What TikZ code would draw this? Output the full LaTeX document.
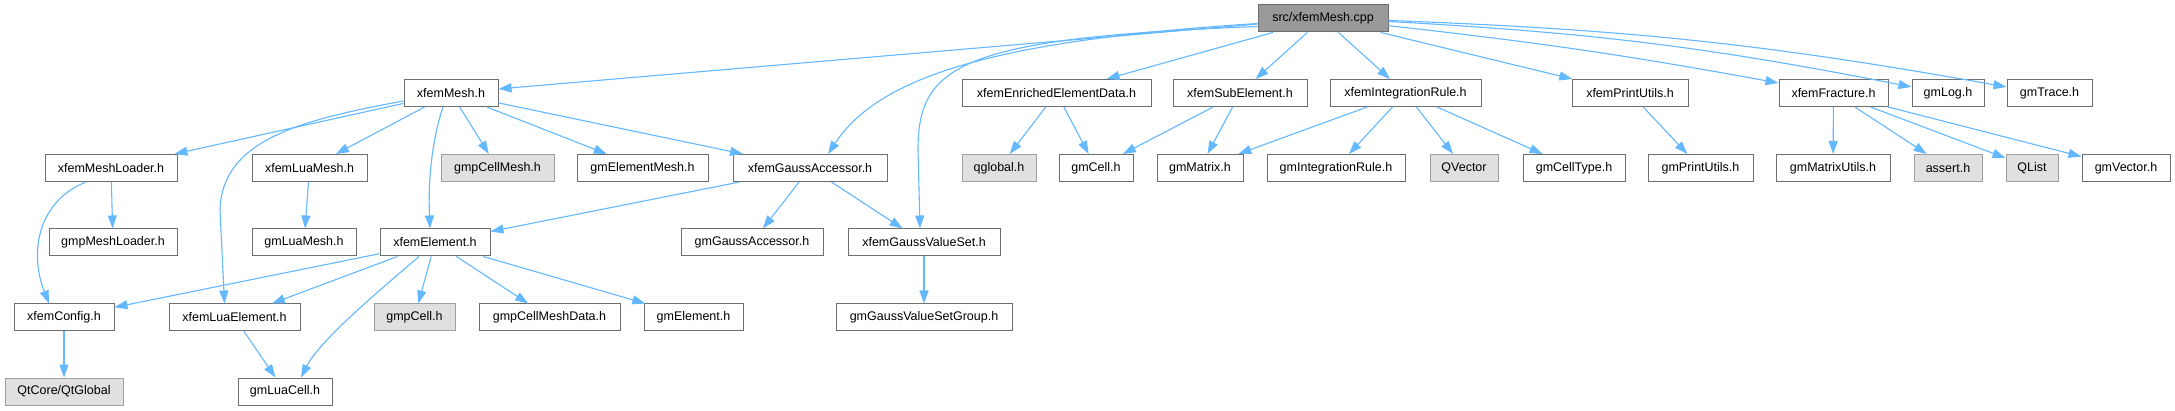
\documentclass[tikz,border=0pt]{standalone}
\usepackage{fontspec}
\setmainfont{Liberation Sans}
\usetikzlibrary{arrows.meta,calc}
\definecolor{edgec}{HTML}{63B8FF}
\definecolor{boxline}{HTML}{6E6E6E}
\definecolor{extline}{HTML}{A0A0A0}
\definecolor{extfill}{HTML}{E0E0E0}
\definecolor{rootfill}{HTML}{999999}
\begin{document}
\begin{tikzpicture}[x=1pt,y=-1pt,
  box/.style={draw=boxline, fill=white, line width=1pt, minimum height=27pt, inner sep=0pt, font=\fontsize{12.5}{14}\selectfont, text=black},
  ext/.style={box, draw=extline, fill=extfill},
  root/.style={box, draw=boxline, fill=rootfill},
  dep/.style={draw=edgec, line width=1.1pt, -{Triangle[length=13pt,width=9pt]}}]
\useasboundingbox[fill=white] (0,0) rectangle (2175,411);
% row 0
\node[root, minimum width=130pt] (cpp) at (1323,18.5) {src/xfemMesh.cpp};
% row 1
\node[box, minimum width=94pt] (xmesh) at (451,93) {xfemMesh.h};
\node[box, minimum width=189pt] (enriched) at (1056.5,93) {xfemEnrichedElementData.h};
\node[box, minimum width=134pt] (subel) at (1240,93) {xfemSubElement.h};
\node[box, minimum width=151pt] (intrule) at (1405.5,93) {xfemIntegrationRule.h};
\node[box, minimum width=116pt] (printu) at (1630,93) {xfemPrintUtils.h};
\node[box, minimum width=109pt] (fract) at (1833.5,93) {xfemFracture.h};
\node[box, minimum width=72pt] (gmlog) at (1948,93) {gmLog.h};
\node[box, minimum width=85pt] (gmtrace) at (2049.5,93) {gmTrace.h};
% row 2
\node[box, minimum width=132pt] (meshloader) at (111,168) {xfemMeshLoader.h};
\node[box, minimum width=115pt] (luamesh) at (309.5,168) {xfemLuaMesh.h};
\node[ext, minimum width=113pt] (gmpcellmesh) at (497.5,168) {gmpCellMesh.h};
\node[box, minimum width=131pt] (gmelemmesh) at (642.5,168) {gmElementMesh.h};
\node[box, minimum width=154pt] (gaussacc) at (810,168) {xfemGaussAccessor.h};
\node[ext, minimum width=74pt] (qglobal) at (999,168) {qglobal.h};
\node[box, minimum width=74pt] (gmcell) at (1096,168) {gmCell.h};
\node[box, minimum width=86pt] (gmmatrix) at (1200,168) {gmMatrix.h};
\node[box, minimum width=138pt] (gmintrule) at (1336,168) {gmIntegrationRule.h};
\node[ext, minimum width=68pt] (qvector) at (1464,168) {QVector};
\node[box, minimum width=102pt] (gmcelltype) at (1574,168) {gmCellType.h};
\node[box, minimum width=105pt] (gmprintu) at (1700.5,168) {gmPrintUtils.h};
\node[box, minimum width=114pt] (gmmatutils) at (1833,168) {gmMatrixUtils.h};
\node[ext, minimum width=68pt] (assert) at (1948,168) {assert.h};
\node[ext, minimum width=52pt] (qlist) at (2032,168) {QList};
\node[box, minimum width=88pt] (gmvector) at (2126,168) {gmVector.h};
% row 3
\node[box, minimum width=128pt] (gmpmeshloader) at (113,242.5) {gmpMeshLoader.h};
\node[box, minimum width=104pt] (gmluamesh) at (304,242.5) {gmLuaMesh.h};
\node[box, minimum width=110pt] (xelem) at (435,242.5) {xfemElement.h};
\node[box, minimum width=142pt] (gmgaussacc) at (752,242.5) {gmGaussAccessor.h};
\node[box, minimum width=152pt] (gaussvs) at (924,242.5) {xfemGaussValueSet.h};
% row 4
\node[box, minimum width=100pt] (xconfig) at (64,317.5) {xfemConfig.h};
\node[box, minimum width=131pt] (luaelem) at (234.5,317.5) {xfemLuaElement.h};
\node[ext, minimum width=81pt] (gmpcell) at (414.5,317.5) {gmpCell.h};
\node[box, minimum width=141pt] (gmpcellmd) at (549.5,317.5) {gmpCellMeshData.h};
\node[box, minimum width=99pt] (gmelement) at (693.5,317.5) {gmElement.h};
\node[box, minimum width=176pt] (gmgvsg) at (924,317.5) {gmGaussValueSetGroup.h};
% row 5
\node[ext, minimum width=118pt] (qtglobal) at (64,391.5) {QtCore/QtGlobal};
\node[box, minimum width=94pt] (gmluacell) at (285,391.5) {gmLuaCell.h};

% edges from cpp
\draw[dep] (cpp) -- (xmesh);
\draw[dep] ($(cpp.west)+(0,5)$) .. controls (1000,40) and (880,75) .. ($(gaussacc.north)+(18,0)$);
\draw[dep] ($(cpp.west)+(0,8)$) .. controls (960,38) and (918,65) .. (918,150) -- ($(gaussvs.north)+(-4,0)$);
\draw[dep] (cpp) -- (enriched);
\draw[dep] (cpp) -- (subel);
\draw[dep] (cpp) -- (intrule);
\draw[dep] (cpp) -- (printu);
\draw[dep] (cpp) to[bend left=2] (fract);
\draw[dep] (cpp) to[bend left=4] ($(gmlog.north west)+(0,8)$);
\draw[dep] (cpp) to[bend left=4] ($(gmtrace.north west)+(0,8)$);
% from xfemMesh.h
\draw[dep] (xmesh) -- (meshloader);
\draw[dep] ($(xmesh.west)+(0,8)$) .. controls (300,120) and (222,140) .. (220,210) -- ($(luaelem.north)+(-10,0)$);
\draw[dep] (xmesh) -- (luamesh);
\draw[dep] ($(xmesh.south)+(-8,0)$) .. controls (432,140) and (428,180) .. ($(xelem.north)+(-5,0)$);
\draw[dep] (xmesh) -- (gmpcellmesh);
\draw[dep] (xmesh) -- (gmelemmesh);
\draw[dep] (xmesh) -- (gaussacc);
% second level
\draw[dep] ($(meshloader.south)+(-25,0)$) .. controls (40,200) and (28,250) .. ($(xconfig.north)+(-15,0)$);
\draw[dep] (meshloader) -- (gmpmeshloader);
\draw[dep] (luamesh) -- (gmluamesh);
\draw[dep] (gaussacc) -- (xelem);
\draw[dep] (gaussacc) -- (gmgaussacc);
\draw[dep] (gaussacc) -- (gaussvs);
\draw[dep] (gaussvs) -- (gmgvsg);
\draw[dep] (enriched) -- (qglobal);
\draw[dep] (enriched) -- (gmcell);
\draw[dep] (subel) -- (gmcell);
\draw[dep] (subel) -- (gmmatrix);
\draw[dep] (intrule) -- (gmmatrix);
\draw[dep] (intrule) -- (gmintrule);
\draw[dep] (intrule) -- (qvector);
\draw[dep] (intrule) -- (gmcelltype);
\draw[dep] (printu) -- (gmprintu);
\draw[dep] (fract) -- (gmmatutils);
\draw[dep] (fract) -- (assert);
\draw[dep] (fract) -- (qlist);
\draw[dep] (fract) -- (gmvector);
% xfemElement.h
\draw[dep] (xelem) -- (xconfig);
\draw[dep] (xelem) -- (luaelem);
\draw[dep] ($(xelem.south)+(-16,0)$) .. controls (380,290) and (320,340) .. ($(gmluacell.north)+(16,0)$);
\draw[dep] (xelem) -- (gmpcell);
\draw[dep] (xelem) -- (gmpcellmd);
\draw[dep] (xelem) -- (gmelement);
\draw[dep] (xconfig) -- (qtglobal);
\draw[dep] (luaelem) -- (gmluacell);
\end{tikzpicture}
\end{document}
